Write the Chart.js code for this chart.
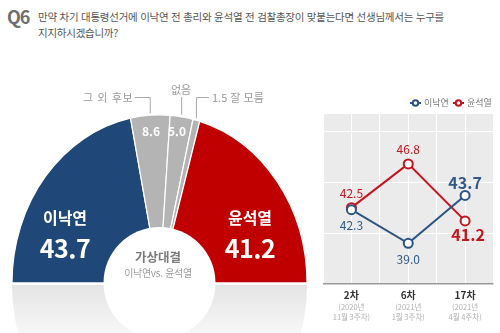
<!DOCTYPE html>
<html lang="ko">
<head>
<meta charset="utf-8">
<script src="https://cdn.jsdelivr.net/npm/chart.js@4.4.1/dist/chart.umd.min.js"></script>
<style>
  body { margin: 0; width: 500px; height: 333px; overflow: hidden; background: #fff; position: relative;
         font-family: "Noto Sans CJK KR", "Noto Sans", sans-serif; }
  canvas { position: absolute; }
  #pie { left: 0; top: 0; }
  #trend { left: 300px; top: 60px; }
  .t { position: absolute; white-space: nowrap; line-height: 1; }
  .c { transform: translate(-50%, -50%); }
  #q { left: 7px; top: 7px; font-size: 18px; font-weight: bold; color: #6e6e6e; letter-spacing: -1px; }
  #question { left: 38px; top: 9px; font-size: 10.5px; line-height: 16px; color: #555; letter-spacing: -0.25px; }
  .name { font-size: 16px; font-weight: bold; color: #fff; }
  .num { font-size: 25px; font-weight: bold; color: #fff; letter-spacing: -0.5px; }
  .small { font-size: 12px; font-weight: bold; color: #fff; }
  .out { font-size: 11px; color: #9a9a9a; }
  #n1 { letter-spacing: 0.6px; }
  #vs1 { font-size: 12.5px; font-weight: bold; color: #7a7a7a; }
  #vs2 { font-size: 10px; color: #9a9a9a; letter-spacing: -0.3px; }
</style>
</head>
<body>
<div class="t" id="q">Q6</div>
<div class="t" id="question">만약 차기 대통령선거에 이낙연 전 총리와 윤석열 전 검찰총장이 맞붙는다면 선생님께서는 누구를<br>지지하시겠습니까?</div>

<canvas id="pie" width="320" height="333"></canvas>
<canvas id="trend" width="200" height="273"></canvas>

<div class="t c name" style="left:65px; top:217px;" id="n0"></div>
<div class="t c num" style="left:65px; top:247px;" id="v0"></div>
<div class="t c name" style="left:250px; top:217px;" id="n4"></div>
<div class="t c num" style="left:250px; top:247px;" id="v4"></div>
<div class="t c small" style="left:151px; top:131px;" id="v1"></div>
<div class="t c small" style="left:177px; top:131px;" id="v2"></div>
<div class="t c out" style="left:108px; top:97px;" id="n1"></div>
<div class="t c out" style="left:181px; top:89px;" id="n2"></div>
<div class="t out" style="left:212px; top:92px;" id="n3"></div>
<div class="t c" style="left:158px; top:257px;" id="vs1">가상대결</div>
<div class="t c" style="left:158px; top:273px;" id="vs2">이낙연vs. 윤석열</div>

<script>
// 가상대결 지지율 (%)
const pieLabels = ['이낙연', '그 외 후보', '없음', '잘 모름', '윤석열'];
const pieValues = [43.7, 8.6, 5.0, 1.5, 41.2];
const pieColors = ['#1f4878', '#b4b4b4', '#b4b4b4', '#b4b4b4', '#c00000'];

// 조사 차수별 추이
const rounds = ['2차', '6차', '17차'];
const roundDates = [['(2020년', '11월 3주차)'], ['(2021년', '1월 3주차)'], ['(2021년', '4월 4주차)']];
const leeValues = [42.3, 39.0, 43.7];
const yoonValues = [42.5, 46.8, 41.2];

const FONT = '"Noto Sans CJK KR", "Noto Sans", sans-serif';
const SY = 1.14; // 반원을 세로로 늘린 비율

// 반원 안팎 텍스트
const fmt = (v) => v.toFixed(1);
document.getElementById('n0').textContent = pieLabels[0];
document.getElementById('n4').textContent = pieLabels[4];
document.getElementById('v0').textContent = fmt(pieValues[0]);
document.getElementById('v4').textContent = fmt(pieValues[4]);
document.getElementById('v1').textContent = fmt(pieValues[1]);
document.getElementById('v2').textContent = fmt(pieValues[2]);
document.getElementById('n1').textContent = pieLabels[1];
document.getElementById('n2').textContent = pieLabels[2];
document.getElementById('n3').textContent = fmt(pieValues[3]) + ' ' + pieLabels[3];

const stretch = {
  id: 'stretch',
  beforeDatasetsDraw(chart) {
    const ctx = chart.ctx,
      arc = chart.getDatasetMeta(0).data[0],
      R = arc.outerRadius;
    // 바닥 반사 그림자
    ctx.save();
    const g = ctx.createLinearGradient(0, arc.y, 0, arc.y + 50);
    g.addColorStop(0, '#e3e3e3');
    g.addColorStop(1, '#f7f7f7');
    ctx.beginPath();
    ctx.ellipse(arc.x, arc.y + 2, R, R * SY, 0, 0, Math.PI);
    ctx.fillStyle = g;
    ctx.fill();
    ctx.restore();

    ctx.save();
    ctx.translate(arc.x, arc.y);
    ctx.scale(1, SY);
    ctx.translate(-arc.x, -arc.y);
  },
  afterDatasetsDraw(chart) {
    const ctx = chart.ctx,
      arcs = chart.getDatasetMeta(0).data,
      cx = arcs[0].x,
      cy = arcs[0].y,
      R = arcs[0].outerRadius;
    ctx.restore();

    ctx.save();
    ctx.fillStyle = '#fff';
    ctx.fillRect(cx - R - 2, cy, 2 * R + 4, 2);
    ctx.beginPath();
    ctx.arc(cx, cy, 56, 0, Math.PI * 2);
    ctx.fill();

    // 작은 항목 지시선
    ctx.strokeStyle = '#a8a8a8';
    ctx.lineWidth = 1;
    const tip = (i) => {
      const a = (arcs[i].startAngle + arcs[i].endAngle) / 2;
      return [cx + R * Math.cos(a), cy + R * SY * Math.sin(a) - 2];
    };
    let [x1, y1] = tip(1);
    ctx.beginPath();
    ctx.moveTo(135, 97.5); ctx.lineTo(x1, 97.5); ctx.lineTo(x1, y1);
    ctx.stroke();
    [x1, y1] = tip(2);
    ctx.beginPath();
    ctx.moveTo(x1, 97); ctx.lineTo(x1, y1);
    ctx.stroke();
    [x1, y1] = tip(3);
    ctx.beginPath();
    ctx.moveTo(209, 97.5); ctx.lineTo(x1, 97.5); ctx.lineTo(x1, y1);
    ctx.stroke();
    ctx.restore();
  }
};

new Chart(document.getElementById('pie'), {
  type: 'doughnut',
  data: {
    labels: pieLabels,
    datasets: [{
      data: pieValues,
      backgroundColor: pieColors,
      borderColor: '#fff',
      borderWidth: 1.2,
      clip: false
    }]
  },
  options: {
    responsive: false,
    devicePixelRatio: 1,
    animation: false,
    circumference: 180,
    rotation: -90,
    radius: 147.5,
    cutout: '32%',
    layout: { padding: { left: 12, right: 13, top: 135.5, bottom: 50 } },
    plugins: { legend: { display: false }, tooltip: { enabled: false } }
  },
  plugins: [stretch]
});

const panelBg = {
  id: 'panelBg',
  beforeDraw(chart) {
    const { ctx, chartArea: a } = chart;
    ctx.save();
    ctx.fillStyle = '#ebebeb';
    ctx.fillRect(a.left, a.top, a.right - a.left, a.bottom - a.top);
    ctx.restore();
  }
};

const pointLabels = {
  id: 'pointLabels',
  afterDatasetsDraw(chart) {
    const ctx = chart.ctx,
      sets = chart.data.datasets;
    ctx.save();
    ctx.textAlign = 'center';
    sets.forEach((ds, di) => {
      const other = sets[1 - di];
      chart.getDatasetMeta(di).data.forEach((pt, i) => {
        const v = ds.data[i].y,
          last = i === ds.data.length - 1,
          above = v > other.data[i].y;
        ctx.fillStyle = ds.labelColor;
        ctx.font = (last ? 'bold 16px ' : '12px ') + FONT;
        ctx.textBaseline = above ? 'bottom' : 'top';
        const dy = above ? (last ? -5 : -8) : (last ? 6 : 10);
        ctx.fillText(v.toFixed(1), pt.x + (last && !above ? 3 : 0), pt.y + dy);
      });
    });
    ctx.restore();
  },
  afterDraw(chart) {
    const ctx = chart.ctx,
      x = chart.scales.x,
      bottom = chart.chartArea.bottom;
    ctx.save();
    ctx.textAlign = 'center';
    ctx.textBaseline = 'middle';
    rounds.forEach((r, i) => {
      const px = x.getPixelForValue(i);
      ctx.fillStyle = '#333';
      ctx.font = 'bold 10px ' + FONT;
      ctx.fillText(r, px, bottom + 11);
      ctx.fillStyle = '#b0b0b0';
      ctx.font = '7.5px ' + FONT;
      ctx.fillText(roundDates[i][0], px, bottom + 23);
      ctx.fillText(roundDates[i][1], px, bottom + 33);
    });

    // 범례
    let lx = 110;
    ctx.textAlign = 'left';
    ctx.font = '9px ' + FONT;
    chart.data.datasets.forEach((ds) => {
      ctx.strokeStyle = ds.borderColor;
      ctx.lineWidth = 2;
      ctx.beginPath();
      ctx.moveTo(lx, 43); ctx.lineTo(lx + 11, 43);
      ctx.stroke();
      ctx.fillStyle = '#fff';
      ctx.beginPath();
      ctx.arc(lx + 5.5, 43, 2.8, 0, Math.PI * 2);
      ctx.fill();
      ctx.stroke();
      ctx.fillStyle = '#777';
      ctx.fillText(ds.label, lx + 14, 43);
      lx += 43;
    });
    ctx.restore();
  }
};

const series = (vals) => vals.map((v, i) => ({ x: i, y: v }));

new Chart(document.getElementById('trend'), {
  type: 'line',
  data: {
    datasets: [
      {
        label: pieLabels[0],
        data: series(leeValues),
        borderColor: '#2c5585',
        labelColor: '#2f5a8a',
        borderWidth: 2,
        pointRadius: 4.5,
        pointBorderWidth: 2,
        pointBackgroundColor: '#fff',
        pointBorderColor: '#2c5585'
      },
      {
        label: pieLabels[4],
        data: series(yoonValues),
        borderColor: '#c2151d',
        labelColor: '#c3161f',
        borderWidth: 2,
        pointRadius: 4.5,
        pointBorderWidth: 2,
        pointBackgroundColor: '#fff',
        pointBorderColor: '#c2151d'
      }
    ]
  },
  options: {
    responsive: false,
    devicePixelRatio: 1,
    animation: false,
    layout: { padding: { left: 23, right: 4, top: 53, bottom: 49 } },
    scales: {
      x: {
        type: 'linear',
        min: -0.5,
        max: 2.5,
        ticks: { display: false, stepSize: 0.5 },
        grid: { color: '#fff', drawTicks: false },
        border: { display: false }
      },
      y: {
        min: 35,
        max: 51.8,
        ticks: { display: false, stepSize: 5 },
        grid: {
          drawTicks: false,
          color: (c) => (c.tick.value === 35 ? '#9a9a9a' : '#fff'),
          lineWidth: (c) => (c.tick.value === 35 ? 1.5 : 1)
        },
        border: { display: false }
      }
    },
    plugins: { legend: { display: false }, tooltip: { enabled: false } }
  },
  plugins: [panelBg, pointLabels]
});
</script>
</body>
</html>
